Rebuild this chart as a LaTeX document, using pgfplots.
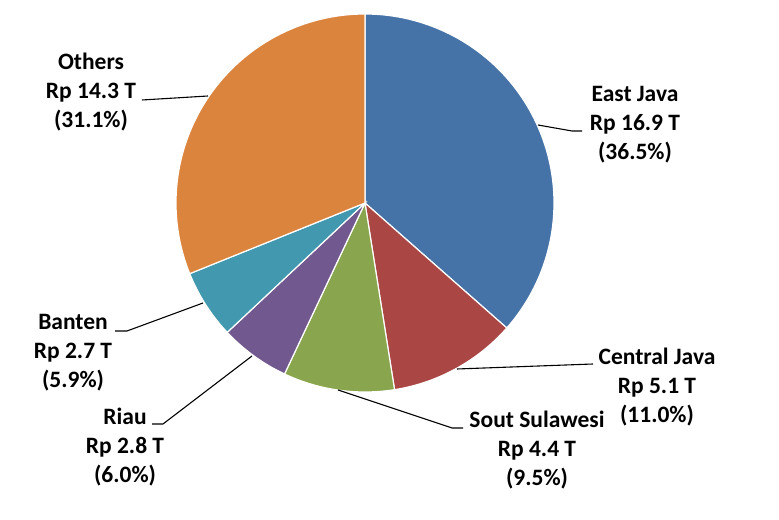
\documentclass[border=0pt]{standalone}
\usepackage{pgfplots}
\pgfplotsset{compat=1.18}
\usepackage{fontspec}
\setmainfont{Carlito}
\definecolor{cEJ}{HTML}{4572A7}
\definecolor{cCJ}{HTML}{AA4643}
\definecolor{cSS}{HTML}{89A54E}
\definecolor{cRI}{HTML}{71588F}
\definecolor{cBA}{HTML}{4198AF}
\definecolor{cOT}{HTML}{DB843D}
\tikzset{lbl/.style={font=\bfseries\fontsize{23.5bp}{29bp}\selectfont, align=center, inner sep=0pt}}
% slice: {cumulative start percent}{percent}{colour}
\newcommand{\slice}[3]{%
  \addplot[fill=#3, draw=white, line width=1.2pt, domain=90-3.6*(#1+#2):90-3.6*(#1), samples=90]
    ({365+189*cos(x)},{317+189*sin(x)}) -- (axis cs:365,317) -- cycle;
}
\begin{document}
\begin{tikzpicture}
\begin{axis}[x=1bp, y=1bp, xmin=0, xmax=779, ymin=0, ymax=520,
  hide axis, scale only axis, clip=false]
\path (axis cs:0,0) rectangle (axis cs:779,520);
% shares (%): East Java 36.5, Central Java 11.0, Sout Sulawesi 9.5, Riau 6.0, Banten 5.9, Others 31.1
\slice{0}{36.5}{cEJ}
\slice{36.5}{11.0}{cCJ}
\slice{47.5}{9.5}{cSS}
\slice{57.0}{6.0}{cRI}
\slice{63.0}{5.9}{cBA}
\slice{68.9}{31.1}{cOT}
% leader lines
\addplot[black, line width=1.1pt] coordinates {(142,420) (208,424)};
\addplot[black, line width=1.1pt] coordinates {(538,395) (572,389) (582,389)};
\addplot[black, line width=1.1pt] coordinates {(115,189) (127,189) (203,217)};
\addplot[black, line width=1.1pt] coordinates {(152,96) (163,96) (252,164)};
\addplot[black, line width=1.1pt] coordinates {(457,151) (593,156)};
\addplot[black, line width=1.1pt] coordinates {(338,130) (452,92) (463,92)};
% labels
\node[lbl] at (axis cs:91,428) {Others\\Rp 14.3 T\\(31.1\%)};
\node[lbl] at (axis cs:635,395) {East Java\\Rp 16.9 T\\(36.5\%)};
\node[lbl] at (axis cs:73,167) {Banten\\Rp 2.7 T\\(5.9\%)};
\node[lbl] at (axis cs:125,73) {Riau\\Rp 2.8 T\\(6.0\%)};
\node[lbl] at (axis cs:657,133) {Central Java\\Rp 5.1 T\\(11.0\%)};
\node[lbl] at (axis cs:537,70) {Sout Sulawesi\\Rp 4.4 T\\(9.5\%)};
\end{axis}
\end{tikzpicture}
\end{document}
